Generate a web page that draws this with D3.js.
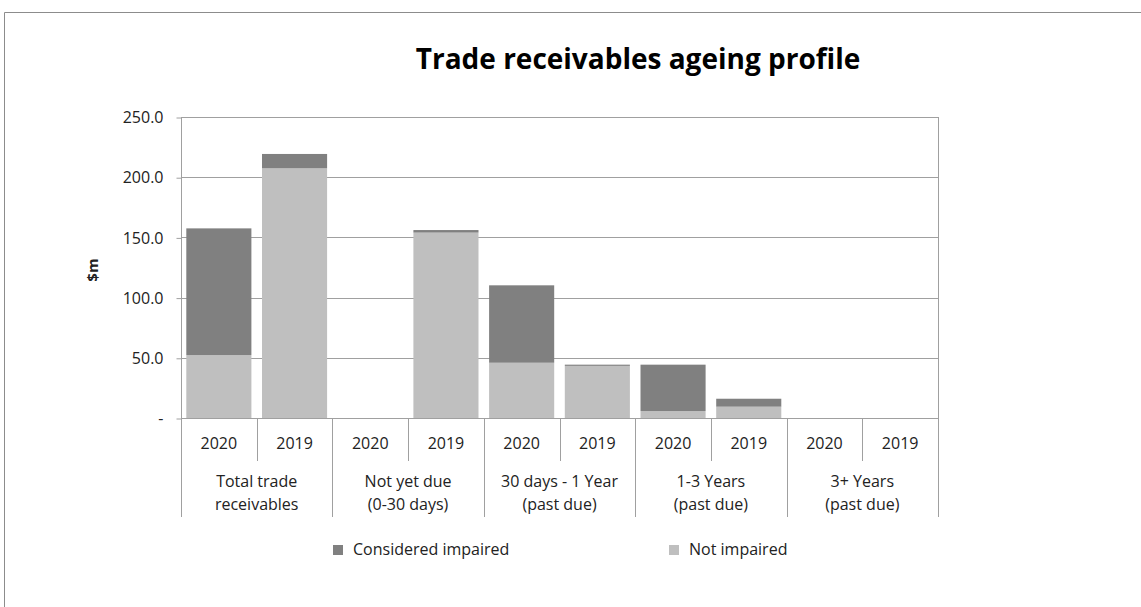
<html>
  <head>
    <script src="https://d3js.org/d3.v7.min.js"></script>
    <style>
      body { margin: 0; background: #fff; }
      text { font-family: "Open Sans", sans-serif; fill: #222; }
    </style>
  </head>
  <body>
    <svg id="chart" width="1141" height="607"></svg>
    <script>
      // data
      var groups = [["Total trade", "receivables"], ["Not yet due", "(0-30 days)"],
                    ["30 days - 1 Year", "(past due)"], ["1-3 Years", "(past due)"],
                    ["3+ Years", "(past due)"]];
      var years = ["2020", "2019"];
      var notImpaired = [52.3, 207.4, 0, 154.0, 45.9, 43.3, 5.8, 9.4, 0, 0];
      var impaired = [105.2, 11.9, 0, 2.1, 64.3, 1.0, 38.5, 6.6, 0, 0];
      var yTicks = [0, 50, 100, 150, 200, 250];
      var seriesNames = ["Considered impaired", "Not impaired"];
      var colors = {"Not impaired": "#bfbfbf", "Considered impaired": "#808080"};

      var svg = d3.select("#chart");

      // outer chart border (runs off the image right and bottom)
      svg.append("path")
        .attr("d", "M4.5,620 L4.5,12.5 L1150,12.5")
        .attr("fill", "none")
        .attr("stroke", "#8c8c8c");

      var pLeft = 181, pRight = 938, pTop = 117, pBottom = 418;

      var slots = [];
      groups.forEach(function(g, gi) {
        years.forEach(function(yr, yi) { slots.push(gi + "-" + yr); });
      });
      var rows = slots.map(function(s, i) {
        return {slot: s, "Not impaired": notImpaired[i], "Considered impaired": impaired[i]};
      });

      var x = d3.scaleBand().domain(slots).range([pLeft, pRight]);
      var xg = d3.scaleBand().domain(d3.range(groups.length)).range([pLeft, pRight]);
      var y = d3.scaleLinear().domain([0, 250]).range([pBottom, pTop]);

      // gridlines
      svg.append("g")
        .selectAll("line")
        .data(yTicks.slice(1))
        .enter().append("line")
          .attr("x1", pLeft).attr("x2", pRight)
          .attr("y1", function(d) { return Math.round(y(d)) + 0.5; })
          .attr("y2", function(d) { return Math.round(y(d)) + 0.5; })
          .attr("stroke", "#a0a0a0");

      // y axis
      var yAxis = svg.append("g")
        .attr("transform", "translate(" + (pLeft + 0.5) + ",0.5)")
        .call(d3.axisLeft(y)
          .tickValues(yTicks)
          .tickSize(5)
          .tickPadding(13)
          .tickFormat(function(d) { return d === 0 ? "-" : d3.format(".1f")(d); }));
      yAxis.select(".domain").remove();
      yAxis.selectAll(".tick line").attr("stroke", "#a0a0a0");
      yAxis.selectAll("text").style("font-size", "16px").style("font-family", "'Open Sans', sans-serif").attr("fill", "#222");

      // stacked bars
      var stack = d3.stack().keys(["Not impaired", "Considered impaired"]);
      var layers = stack(rows);
      var bw = x.bandwidth() * 0.86;
      svg.append("g")
        .selectAll("g")
        .data(layers)
        .enter().append("g")
          .attr("fill", function(d) { return colors[d.key]; })
        .selectAll("rect")
        .data(function(d) { return d; })
        .enter().append("rect")
          .attr("x", function(d) { return x(d.data.slot) + (x.bandwidth() - bw) / 2; })
          .attr("width", bw)
          .attr("y", function(d) { return y(d[1]); })
          .attr("height", function(d) { return y(d[0]) - y(d[1]); });

      // axis frame: left, right, bottom
      var frame = svg.append("g").attr("stroke", "#a0a0a0");
      frame.append("line").attr("x1", pLeft + 0.5).attr("x2", pLeft + 0.5).attr("y1", pTop).attr("y2", 517);
      frame.append("line").attr("x1", pRight + 0.5).attr("x2", pRight + 0.5).attr("y1", pTop).attr("y2", 517);
      frame.append("line").attr("x1", pLeft).attr("x2", pRight).attr("y1", pBottom + 0.5).attr("y2", pBottom + 0.5);

      // dividers between years and between groups
      frame.selectAll(".ydiv")
        .data(d3.range(groups.length))
        .enter().append("line")
          .attr("x1", function(d) { return Math.round(x(d + "-2019")) + 0.5; })
          .attr("x2", function(d) { return Math.round(x(d + "-2019")) + 0.5; })
          .attr("y1", pBottom).attr("y2", 461);
      frame.selectAll(".gdiv")
        .data(d3.range(1, groups.length))
        .enter().append("line")
          .attr("x1", function(d) { return Math.round(xg(d)) + 0.5; })
          .attr("x2", function(d) { return Math.round(xg(d)) + 0.5; })
          .attr("y1", pBottom).attr("y2", 517);

      // year labels
      svg.append("g")
        .selectAll("text")
        .data(slots)
        .enter().append("text")
          .attr("x", function(d) { return x(d) + x.bandwidth() / 2; })
          .attr("y", 449)
          .attr("text-anchor", "middle")
          .style("font-size", "16px")
          .text(function(d) { return d.split("-")[1]; });

      // group labels
      svg.append("g")
        .selectAll("text")
        .data(groups)
        .enter().append("text")
          .attr("text-anchor", "middle")
          .style("font-size", "16px")
          .selectAll("tspan")
          .data(function(d, i) { return d.map(function(t) { return {t: t, i: i}; }); })
          .enter().append("tspan")
            .attr("x", function(d) { return xg(d.i) + xg.bandwidth() / 2; })
            .attr("y", function(d, j) { return 487 + j * 23; })
            .text(function(d) { return d.t; });

      // y axis title
      svg.append("text")
        .attr("transform", "translate(98,270) rotate(-90)")
        .attr("text-anchor", "middle")
        .style("font-size", "15px")
        .style("font-weight", "bold")
        .text("$m");

      // chart title
      svg.append("text")
        .attr("x", 638)
        .attr("y", 69)
        .attr("text-anchor", "middle")
        .style("font-size", "28px")
        .style("font-weight", "bold")
        .style("fill", "#000")
        .text("Trade receivables ageing profile");

      // legend
      var legX = [333, 669];
      var leg = svg.append("g")
        .selectAll("g")
        .data(seriesNames)
        .enter().append("g")
          .attr("transform", function(d, i) { return "translate(" + legX[i] + ",545)"; });
      leg.append("rect")
        .attr("width", 10).attr("height", 10)
        .attr("fill", function(d) { return colors[d]; });
      leg.append("text")
        .attr("x", 20).attr("y", 10)
        .style("font-size", "16px")
        .text(function(d) { return d; });
    </script>
  </body>
</html>
